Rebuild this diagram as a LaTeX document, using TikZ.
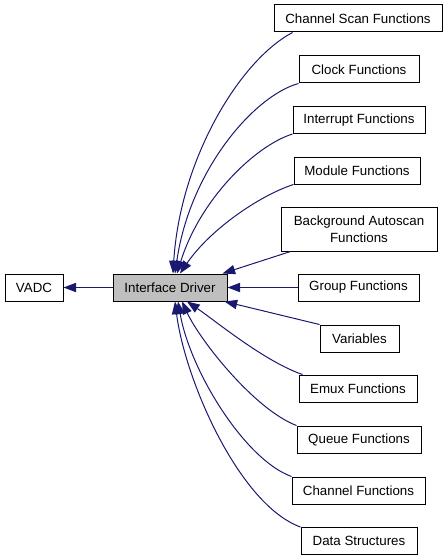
\documentclass[tikz,border=0pt]{standalone}
\usepackage{fontspec}
\setmainfont{Liberation Sans}
\usetikzlibrary{arrows.meta,calc}
\definecolor{edgeblue}{HTML}{191970}
\definecolor{grpgray}{HTML}{BFBFBF}
\begin{document}
\begin{tikzpicture}[x=0.75pt,y=-0.75pt,
    grp/.style={draw=black,line width=0.75pt,fill=white,inner sep=0pt,
                minimum height=20.25pt,font=\fontsize{10}{12.5}\selectfont,align=center},
    edge/.style={draw=edgeblue,line width=0.75pt,-{Triangle[length=9.5pt,width=7pt]}}]
    \useasboundingbox (0,0) rectangle (448,560);
    \node[grp,minimum width=43.5pt] (vadc) at (34,287.5) {VADC};
    \node[grp,fill=grpgray,minimum width=85.5pt] (id) at (170,287.5) {Interface Driver};
    \node[grp,minimum width=126pt] (cs) at (358,18.5) {Channel Scan Functions};
    \node[grp,minimum width=90pt] (clock) at (359,69.5) {Clock Functions};
    \node[grp,minimum width=99pt] (intr) at (359,120) {Interrupt Functions};
    \node[grp,minimum width=94.5pt] (module) at (357,170.5) {Module Functions};
    \node[grp,minimum width=117pt,minimum height=33pt] (bg) at (359,229) {Background Autoscan\\Functions};
    \node[grp,minimum width=90.75pt] (group) at (358.5,287.5) {Group Functions};
    \node[grp,minimum width=59.25pt] (var) at (359.5,338.5) {Variables};
    \node[grp,minimum width=88.5pt] (emux) at (358,388.5) {Emux Functions};
    \node[grp,minimum width=93pt] (queue) at (359,439.5) {Queue Functions};
    \node[grp,minimum width=99.75pt] (chan) at (358.5,490.5) {Channel Functions};
    \node[grp,minimum width=87pt] (data) at (359,541) {Data Structures};
    \draw[edge] (id.west) -- (vadc.east);
    \draw[edge] ($(cs.south west)+(19,0)$) .. controls +(-53,28) and +(7,-114) .. ($(id.north)+(3,0)$);
    \draw[edge] (clock.south west) .. controls +(-44,12) and +(15,-104) .. ($(id.north)+(5,0)$);
    \draw[edge] (intr.south west) .. controls +(-38,12) and +(23,-74) .. ($(id.north)+(7,0)$);
    \draw[edge] (module.south west) .. controls +(-34,11) and +(30,-44) .. ($(id.north)+(10,0)$);
    \draw[edge] ($(bg.south west)+(10,0)$) -- ($(id.north east)+(-5,0)$);
    \draw[edge] (group.west) -- (id.east);
    \draw[edge] (var.north west) -- ($(id.south east)+(-3,0)$);
    \draw[edge] ($(emux.north west)+(4,0)$) .. controls +(-38,-13) and +(28,19) .. ($(id.south)+(17,0)$);
    \draw[edge] (queue.north west) .. controls +(-42,-16) and +(18,39) .. ($(id.south)+(12,0)$);
    \draw[edge] (chan.north west) .. controls +(-47,-17) and +(12,69) .. ($(id.south)+(8,0)$);
    \draw[edge] (data.north west) .. controls +(-61,-22) and +(10,79) .. ($(id.south)+(5,0)$);
\end{tikzpicture}
\end{document}
